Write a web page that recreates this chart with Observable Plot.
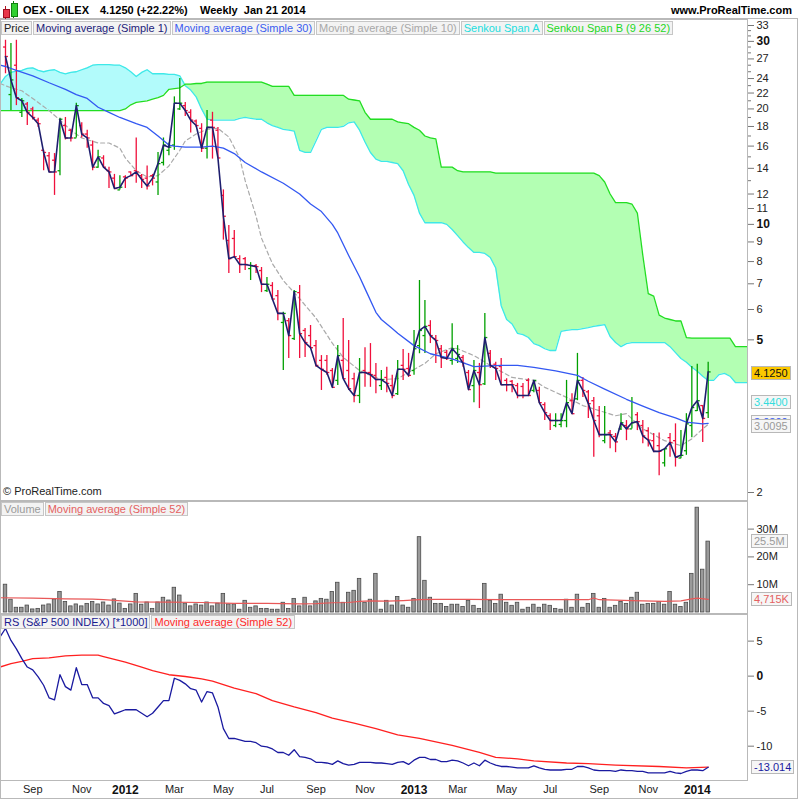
<!DOCTYPE html>
<html><head><meta charset="utf-8">
<script src="https://cdn.jsdelivr.net/npm/d3@7"></script>
<script src="https://cdn.jsdelivr.net/npm/@observablehq/plot@0.6"></script>
<style>
body{margin:0;background:#fff;font-family:"Liberation Sans",Arial,sans-serif;}
#wrap{position:relative;width:800px;height:800px;overflow:hidden;background:#fff;}
.lg{position:absolute;display:flex;font-size:11px;line-height:12px;}
.lg span{border:1px solid #c6c6c6;background:#f3f3f3;padding:0 2px;margin-right:1px;white-space:nowrap;}
.vb{position:absolute;left:751px;font-size:11px;line-height:12px;border:1px solid #b8b8b8;background:#f6f6f6;padding:0 2px;white-space:nowrap;}
</style></head><body><div id="wrap"></div>
<script>
// ---------- DATA (weekly bars from week of 2011-08-01, index 0 .. 129) ----------
const firstWeek = "2011-08-01";
const high = [30.2,29.6,30.2,21.3,20.8,20.2,18.9,15.6,15.4,15.3,
 18.9,19.0,17.7,20.7,18.4,17.6,16.5,15.6,15.1,14.1,
 13.5,13.4,13.4,13.7,16.8,13.5,14.2,13.5,15.4,16.8,
 16.3,21.5,24.0,20.8,19.9,18.7,18.3,19.8,19.6,17.9,
 12.3,9.93,9.64,8.29,8.20,7.95,7.86,7.72,7.27,7.05,
 6.72,5.90,5.68,6.72,6.93,5.35,5.45,4.98,4.55,4.55,
 4.21,4.83,5.68,4.98,4.09,4.47,4.77,4.89,4.34,4.16,
 4.24,4.04,4.42,4.72,4.61,5.29,7.14,6.33,5.61,5.13,
 4.83,4.69,5.51,4.83,4.55,4.16,4.42,4.34,5.86,4.69,
 4.37,4.47,3.96,3.92,3.85,3.85,3.96,3.92,3.76,3.43,
 3.21,3.21,3.21,3.92,3.62,4.61,3.99,3.69,3.54,3.35,
 3.35,2.90,2.85,3.21,3.08,3.54,3.23,3.08,2.95,2.85,
 2.86,2.60,2.85,3.02,2.90,3.21,4.26,4.32,3.37,4.37];
const low = [24.7,19.8,20.4,19.0,18.1,18.7,17.9,13.8,13.7,11.9,
 13.4,16.6,16.4,16.8,16.8,15.8,13.8,14.0,14.0,12.4,
 12.4,12.3,12.4,13.4,12.8,12.4,12.3,12.6,11.9,14.2,
 15.1,15.6,19.8,19.1,17.3,17.9,15.4,14.8,14.8,14.9,
 9.1,7.45,8.20,7.45,7.58,7.14,7.45,6.64,6.64,6.33,
 5.61,4.16,4.47,4.98,4.47,4.50,4.74,4.24,3.69,4.04,
 3.76,3.80,3.96,3.69,3.43,3.41,3.76,3.76,3.62,3.69,
 3.64,3.51,3.58,3.92,3.99,4.04,4.60,4.61,4.89,4.34,
 4.21,4.42,4.29,4.34,4.24,3.71,3.43,3.31,3.80,4.21,
 3.92,3.80,3.66,3.64,3.51,3.51,3.56,3.64,3.41,3.08,
 2.90,2.95,2.95,2.95,3.21,3.47,3.54,3.12,2.47,2.78,
 2.68,2.60,2.54,2.90,2.73,2.93,2.90,2.68,2.63,2.54,
 2.21,2.33,2.47,2.33,2.45,2.50,2.78,3.25,2.70,3.12];
const open = [29.0,21.8,26.0,19.6,20.6,20.0,18.7,15.6,15.1,14.7,
 13.8,18.1,17.6,16.8,18.1,17.2,16.1,14.1,14.9,13.8,
 13.2,12.3,13.3,13.7,13.8,13.4,13.2,13.4,12.9,14.5,
 15.6,16.1,20.0,20.4,19.6,18.6,17.8,15.8,18.7,17.6,
 11.9,9.08,9.19,8.14,8.14,7.67,7.81,7.58,6.72,6.93,
 6.52,5.55,5.61,5.04,6.64,5.29,5.13,4.83,4.42,4.42,
 4.16,3.92,4.42,4.16,3.96,3.58,4.16,4.11,4.04,3.80,
 3.99,3.80,3.62,4.29,4.21,4.16,4.83,5.13,5.45,5.04,
 4.74,4.64,4.42,4.47,4.50,4.11,3.80,4.11,3.84,4.61,
 4.32,4.26,3.92,3.90,3.80,3.78,3.92,3.69,3.69,3.39,
 3.17,2.99,3.01,3.08,3.47,3.51,3.92,3.66,3.47,3.17,
 2.73,2.86,2.80,2.93,2.99,2.93,3.19,2.99,2.90,2.73,
 2.65,2.39,2.78,2.73,2.46,2.57,2.99,3.27,3.37,3.23];
const close = [27.4,23.8,21.4,21.0,19.6,19.0,18.3,15.4,13.7,13.7,
 18.8,16.8,16.8,20.4,17.2,16.8,14.1,15.0,14.1,13.7,
 12.4,12.5,13.2,13.4,13.7,13.1,12.6,13.2,14.4,16.1,
 15.9,20.7,20.7,19.8,18.7,18.1,15.8,17.9,17.9,14.9,
 10.5,8.14,8.24,7.86,7.86,7.81,7.76,6.98,6.98,6.39,
 5.86,5.86,5.13,6.68,5.19,4.92,4.77,4.29,4.19,4.11,
 3.76,4.55,3.96,3.73,3.58,4.11,4.11,4.06,3.94,3.94,
 3.85,3.58,4.19,4.19,4.04,4.74,5.29,5.42,5.13,4.98,
 4.50,4.47,4.74,4.58,4.34,3.71,4.16,3.82,5.07,4.29,
 4.21,3.82,3.82,3.82,3.58,3.58,3.58,3.92,3.43,3.23,
 3.08,3.08,3.08,3.43,3.21,3.92,3.69,3.41,3.08,2.83,
 2.83,2.83,2.71,3.04,2.93,3.04,3.06,2.81,2.74,2.56,
 2.56,2.60,2.70,2.47,2.50,3.02,3.33,3.47,3.12,4.125];
// volume, millions of shares
const volume = [10.0,4.6,1.7,1.7,2.5,1.1,1.3,2.5,2.9,4.7,
 7.4,3.8,2.2,2.9,2.2,3.1,3.8,2.9,3.6,2.5,
 4.7,3.2,1.3,2.9,6.7,2.8,3.6,1.3,3.6,5.3,
 4.3,8.9,6.1,3.2,2.2,2.9,2.5,3.6,2.2,3.2,
 6.7,2.9,2.9,1.0,4.2,1.7,2.2,1.3,1.3,1.0,
 1.0,3.5,1.3,4.9,2.2,5.3,2.2,4.0,4.9,4.6,
 7.4,10.7,3.5,7.1,7.8,12.1,3.5,4.6,13.9,1.0,
 4.2,2.5,5.6,2.5,1.7,4.9,27.1,11.4,5.3,3.1,
 3.1,2.0,2.8,2.8,2.0,4.2,2.4,1.3,10.3,4.2,
 3.1,6.4,3.5,2.4,3.5,1.0,1.7,2.8,1.7,2.8,
 2.4,1.3,1.0,4.6,1.7,6.4,1.7,3.1,6.7,1.7,
 4.9,1.7,2.4,3.8,3.1,5.3,7.1,2.8,3.1,3.1,
 3.8,2.8,7.4,2.8,2.0,3.5,13.9,37.7,15.4,25.5];
// moving averages, read at the listed week indexes
const ma30Idx = [-1,0,2,5,8,11,13,15,17,19,21,24,26,28,30,31,33,36,38,40,42,44,47,51,54,56,58,60,61,63,65,66,68,69,71,72,75,78,82,86,91,94,97,101,105,107,110,114,117,120,123,125,128,129];
const ma30Val = [26.0,25.8,25.2,24.4,23.4,22.5,21.8,21.3,20.2,19.6,19.0,18.3,17.9,17.0,16.1,16.0,15.9,15.9,16.0,15.8,15.3,14.5,13.7,12.8,12.0,11.3,10.8,10.0,9.5,8.3,7.3,6.8,5.9,5.65,5.35,5.2,4.83,4.6,4.46,4.26,4.29,4.29,4.24,4.15,4.04,3.9,3.72,3.5,3.36,3.23,3.13,3.05,3.02,3.03];
const ma10Idx = [-1,1,3,5,8,10,12,14,17,19,21,22,24,26,28,30,32,33,35,37,39,41,43,44,46,47,49,51,54,57,60,62,65,67,69,72,74,77,79,82,83,86,90,93,97,99,103,106,109,112,114,117,119,121,124,126,128,129];
const ma10Val = [23.3,22.7,22.3,21.3,19.8,18.7,17.6,16.8,16.3,16.3,15.8,14.9,13.8,13.3,13.4,14.2,15.6,16.5,17.2,17.7,17.8,16.9,14.9,13.0,10.5,9.2,7.9,7.14,6.4,5.7,4.9,4.5,4.16,4.04,3.94,3.96,4.11,4.34,4.6,4.77,4.74,4.55,4.21,3.99,3.92,3.76,3.54,3.37,3.27,3.17,3.21,2.93,2.83,2.73,2.65,2.76,2.93,3.0095];
// Ichimoku spans (plotted 26 weeks ahead), week index -1 .. 137
const cloudStart = -1;
const spanA = [23.2,24.3,24.9,25.1,25.2,25.5,25.6,25.2,25.0,25.2,25.3,
 24.9,24.7,24.9,25.0,25.3,25.6,26.0,26.1,26.1,26.1,
 26.0,26.0,25.6,25.0,24.3,24.9,25.3,24.7,24.7,24.7,
 24.6,24.6,24.4,23.0,22.4,21.5,20.0,18.8,18.7,18.7,
 18.7,18.7,18.7,18.9,19.0,18.9,18.8,18.8,18.4,18.1,
 17.9,17.7,17.6,17.5,15.6,15.4,15.4,16.5,17.7,17.9,
 17.9,17.9,18.0,18.4,18.5,17.6,16.4,15.4,14.8,14.6,
 14.6,14.5,14.4,13.8,12.7,11.9,10.7,10.1,10.1,10.1,
 10.1,10.0,9.7,9.35,9.0,8.7,8.45,8.45,8.4,8.2,
 7.7,6.14,5.65,5.5,5.2,5.16,5.07,4.89,4.83,4.74,
 4.69,4.69,5.26,5.29,5.32,5.32,5.35,5.38,5.42,5.45,
 5.48,5.1,4.92,4.8,4.89,4.92,4.92,4.92,4.92,4.92,
 4.92,4.92,4.8,4.63,4.47,4.37,4.24,4.14,4.02,3.92,
 3.92,4.06,4.09,4.02,3.87,3.87,3.87,3.87];
const spanB = [19.8,19.8,19.8,19.8,19.8,19.8,19.8,19.8,19.8,19.8,19.8,19.8,
 19.8,19.8,19.8,19.8,19.8,19.8,19.8,19.8,19.8,19.8,19.8,
 20.0,20.5,20.8,20.9,21.0,21.2,21.4,21.7,22.5,22.6,22.7,23.2,23.2,23.3,23.3,
 23.5,23.5,23.5,23.5,23.5,23.5,23.5,23.5,23.5,23.5,23.5,
 23.2,22.9,22.9,22.9,22.9,
 21.7,21.7,21.7,21.7,21.7,21.7,21.7,21.7,21.7,21.7,
 21.2,21.1,21.0,19.6,
 18.8,18.8,18.8,18.8,18.8,
 18.5,18.4,18.3,17.9,17.6,17.0,16.8,16.7,
 14.1,14.1,14.1,13.8,
 13.7,13.7,13.7,13.7,13.7,13.7,
 13.6,13.6,13.6,13.6,13.6,13.6,13.6,13.6,13.6,13.6,13.6,13.6,13.6,13.6,13.6,13.6,13.6,13.6,13.6,
 13.4,12.9,12.0,11.4,11.4,11.4,
 11.3,10.7,8.3,6.6,6.5,5.8,5.7,5.65,5.6,5.6,5.07,
 5.05,5.05,5.05,5.05,5.05,5.05,5.05,5.05,
 4.8,4.8,4.8,4.8];
const volMaIdx = [-1,5,11,16,18,24,30,36,42,48,54,57,60,63,65,67,70,73,76,79,85,91,97,103,107,108,109,115,121,124,126,127,129];
const volMaVal = [5.3,5.15,4.9,4.8,4.6,3.8,3.7,3.6,3.3,3.3,3.1,3.2,3.5,3.6,4.0,4.2,4.1,4.3,4.6,4.7,4.7,4.6,4.6,4.6,4.6,5.2,4.6,4.3,4.0,4.2,4.9,5.2,4.715];
// relative strength vs S&P 500 (*1000), week index -1 .. 129
const rsStart = -1;
const rs = [5.6,
 6.8,5.1,3.9,2.5,1.3,0.9,-0.1,-1.3,-3.1,-3.4,
 0.2,-1.5,-2.0,1.2,-1.2,-1.2,-3.1,-3.1,-3.9,-4.2,
 -5.4,-5.1,-4.8,-4.8,-4.8,-5.3,-5.8,-5.3,-4.4,-3.5,
 -3.5,-0.3,-0.6,-1.1,-1.8,-2.0,-3.7,-2.2,-2.4,-4.4,
 -7.5,-8.9,-8.9,-9.1,-9.3,-9.3,-9.5,-10.0,-10.1,-10.4,
 -10.9,-10.9,-11.3,-10.5,-11.5,-11.6,-11.8,-12.3,-12.3,-12.4,
 -12.6,-12.1,-12.5,-12.7,-12.6,-12.3,-12.3,-12.3,-12.4,-12.4,
 -12.5,-12.6,-12.3,-12.2,-12.6,-12.0,-11.6,-11.6,-11.9,-11.9,
 -12.2,-12.2,-12.0,-12.1,-12.4,-12.8,-12.4,-12.8,-12.0,-12.4,
 -12.7,-12.9,-12.9,-13.0,-13.1,-13.1,-13.1,-12.8,-13.1,-13.3,
 -13.4,-13.4,-13.4,-13.3,-13.3,-12.9,-12.9,-13.1,-13.4,-13.5,
 -13.5,-13.5,-13.6,-13.4,-13.5,-13.5,-13.6,-13.6,-13.8,-13.8,
 -13.8,-13.8,-13.6,-13.8,-13.9,-13.6,-13.4,-13.4,-13.5,-13.014];
const rsMaIdx = [-1,1,3,5,8,11,14,17,18,22,25,27,30,33,36,38,42,46,49,53,57,60,64,68,72,76,82,87,90,94,97,103,107,112,120,125,129];
const rsMaVal = [1.3,1.8,2.1,2.5,2.6,2.9,3.0,3.0,2.8,2.0,1.3,0.8,0.2,-0.05,-0.4,-0.7,-1.7,-2.5,-3.5,-4.4,-5.2,-6.0,-6.7,-7.5,-8.4,-8.9,-9.9,-10.9,-11.6,-11.8,-12.1,-12.4,-12.5,-12.7,-12.9,-13.1,-13.0];
// axis ticks
const tickIdx = [5,14,22,31,40,48,57,66,75,83,92,100,109,118,127];
const tickLabels = ["Sep","Nov","2012","Mar","May","Jul","Sep","Nov","2013","Mar","May","Jul","Sep","Nov","2014"];
const priceTicksMinor = [13,15,17,19,21,23,25,26,28,29,31,32];
const priceTicks = [2,6,7,8,9,11,12,14,16,18,20,22,24,27,33];
const priceTicksBold = [5,10,30];
const volTicks = [10,20,30];
const rsTicks = [-10,-5,5];
const rsTicksBold = [0];
const lastPrice = 4.125, spanALast = 3.44, volLast = 25.5;

// ---------- build tables ----------
const bars = close.map((c, i) => ({i, o: open[i], h: high[i], l: low[i], c, col: c >= open[i] ? "#00a000" : "#f0103c"}));
const cloud = spanA.map((a, k) => ({j: k + cloudStart, a, b: spanB[k]}));
const ma30 = ma30Idx.map((i, k) => ({i, v: ma30Val[k]}));
const ma10 = ma10Idx.map((i, k) => ({i, v: ma10Val[k]}));
const vols = volume.map((v, i) => ({i, v}));
const volMa = volMaIdx.map((i, k) => ({i, v: volMaVal[k]}));
const rsData = rs.map((v, k) => ({i: k + rsStart, v}));
const rsMa = rsMaIdx.map((i, k) => ({i, v: rsMaVal[k]}));
const labelOf = Object.fromEntries(tickIdx.map((t, k) => [t, tickLabels[k]]));
const isYear = s => /^\d{4}$/.test(s);

const FONT = '"Liberation Sans", Arial, sans-serif';
const xDom = [-0.918, 136.22];
const frameCol = "#b9b9b9";
const wrap = document.getElementById("wrap");
const common = {width: 800, marginLeft: 0, marginRight: 53, marginTop: 0,
  style: {fontFamily: FONT, fontSize: "11px", color: "#222", background: "transparent", overflow: "visible"}};

// ---------- price panel ----------
const price = Plot.plot({...common, height: 481, marginBottom: 0,
  x: {type: "linear", domain: xDom, axis: null, label: null},
  y: {type: "log", domain: [2, 33], range: [473, 6], label: null},
  color: {type: "identity"},
  marks: [
    Plot.areaY(cloud, {x: "j", y1: "b", y2: d => Math.max(d.a, d.b), fill: "#b2fbfb", clip: true}),
    Plot.areaY(cloud, {x: "j", y1: "a", y2: d => Math.max(d.a, d.b), fill: "#b3ffb3", clip: true}),
    Plot.line(cloud, {x: "j", y: "a", stroke: "#3ee8e8", strokeWidth: 1.3, clip: true}),
    Plot.line(cloud, {x: "j", y: "b", stroke: "#22dd22", strokeWidth: 1.3, clip: true}),
    Plot.line(ma10, {x: "i", y: "v", stroke: "#aaaaaa", strokeWidth: 1.2, strokeDasharray: "4,3", clip: true}),
    Plot.ruleX(bars, {x: "i", y1: "l", y2: "h", stroke: "col", strokeWidth: 1.3, clip: true}),
    Plot.link(bars, {x1: d => d.i - 0.45, x2: "i", y1: "o", y2: "o", stroke: "col", strokeWidth: 1.3, clip: true}),
    Plot.link(bars, {x1: "i", x2: d => d.i + 0.45, y1: "c", y2: "c", stroke: "col", strokeWidth: 1.3, clip: true}),
    Plot.line(ma30, {x: "i", y: "v", stroke: "#3358f2", strokeWidth: 1.3, clip: true}),
    Plot.line(bars, {x: "i", y: "c", stroke: "#1e1e6e", strokeWidth: 1.6, clip: true}),
    Plot.frame({stroke: frameCol}),
    Plot.axisY(priceTicksMinor, {anchor: "right", tickSize: 3, tickFormat: () => "", stroke: "#777", label: null}),
    Plot.axisY(priceTicks, {anchor: "right", tickSize: 6, tickPadding: 3, tickFormat: d => String(d), stroke: "#777", fill: "#222", label: null}),
    Plot.axisY(priceTicksBold, {anchor: "right", tickSize: 6, tickPadding: 3, tickFormat: d => String(d), stroke: "#777", fill: "#111", fontWeight: "bold", fontSize: 12, label: null})
  ]
});
price.style.position = "absolute"; price.style.left = "0px"; price.style.top = "19px";
wrap.appendChild(price);

// ---------- volume panel ----------
const volPlot = Plot.plot({...common, height: 112, marginBottom: 0,
  x: {type: "linear", domain: xDom, axis: null, label: null},
  y: {domain: [0, 40], range: [111, -0.2], label: null},
  marks: [
    Plot.rect(vols, {x1: d => d.i - 0.32, x2: d => d.i + 0.32, y1: 0, y2: "v", fill: "#9a9a9a", stroke: "#4a4a4a", strokeWidth: 0.8}),
    Plot.line(volMa, {x: "i", y: "v", stroke: "#e85858", strokeWidth: 1.2, clip: true}),
    Plot.frame({stroke: frameCol}),
    Plot.axisY(volTicks, {anchor: "right", tickSize: 6, tickPadding: 3, tickFormat: d => d + "M", stroke: "#777", fill: "#222", label: null})
  ]
});
volPlot.style.position = "absolute"; volPlot.style.left = "0px"; volPlot.style.top = "501px";
wrap.appendChild(volPlot);

// ---------- RS panel ----------
const rsPlot = Plot.plot({...common, height: 186, marginBottom: 20,
  x: {type: "linear", domain: xDom, label: null},
  y: {domain: [-14.9, 8.8], label: null},
  marks: [
    Plot.line(rsMa, {x: "i", y: "v", stroke: "#ff2020", strokeWidth: 1.3, clip: true}),
    Plot.line(rsData, {x: "i", y: "v", stroke: "#1a1aa0", strokeWidth: 1.3, clip: true}),
    Plot.frame({stroke: frameCol}),
    Plot.axisY(rsTicks, {anchor: "right", tickSize: 6, tickPadding: 3, tickFormat: d => String(d), stroke: "#777", fill: "#222", label: null}),
    Plot.axisY(rsTicksBold, {anchor: "right", tickSize: 6, tickPadding: 3, tickFormat: d => String(d), stroke: "#777", fill: "#111", fontWeight: "bold", fontSize: 12, label: null}),
    Plot.axisX(tickIdx.filter(t => !isYear(labelOf[t])), {anchor: "bottom", tickSize: 0, tickPadding: 5, tickFormat: t => labelOf[t], fill: "#222", label: null}),
    Plot.axisX(tickIdx.filter(t => isYear(labelOf[t])), {anchor: "bottom", tickSize: 0, tickPadding: 5, tickFormat: t => labelOf[t], fill: "#111", fontWeight: "bold", fontSize: 12, label: null})
  ]
});
rsPlot.style.position = "absolute"; rsPlot.style.left = "0px"; rsPlot.style.top = "614px";
wrap.appendChild(rsPlot);

// ---------- HTML decorations ----------
function add(html, css) { const d = document.createElement("div"); d.innerHTML = html; Object.assign(d.style, css); wrap.appendChild(d); return d; }
add("", {position: "absolute", left: "0px", top: "18px", width: "798px", height: "781px", border: "1px solid " + frameCol, boxSizing: "border-box", pointerEvents: "none"});
add('<div style="position:absolute;left:5px;top:6px;width:1px;height:13px;background:#b01020"></div><div style="position:absolute;left:3px;top:9px;width:5px;height:7px;background:#e8384a;border:1px solid #a01020"></div><div style="position:absolute;left:13px;top:1px;width:1px;height:17px;background:#108010"></div><div style="position:absolute;left:11px;top:3px;width:5px;height:12px;background:#30d030;border:1px solid #108010"></div>', {position: "absolute", left: "0px", top: "0px"});
add("OEX - OILEX", {position: "absolute", left: "23px", top: "4px", fontSize: "11px", fontWeight: "bold"});
add("4.1250 (+22.22%)", {position: "absolute", left: "100px", top: "4px", fontSize: "11px", fontWeight: "bold"});
add("Weekly&nbsp;&nbsp;Jan 21 2014", {position: "absolute", left: "200px", top: "4px", fontSize: "11px", fontWeight: "bold"});
add("www.ProRealTime.com", {position: "absolute", right: "8px", top: "4px", fontSize: "11px", fontWeight: "bold"});
function legend(items, top) {
  const d = document.createElement("div"); d.className = "lg"; d.style.left = "1px"; d.style.top = top + "px";
  for (const [txt, col] of items) { const s = document.createElement("span"); s.textContent = txt; s.style.color = col; d.appendChild(s); }
  wrap.appendChild(d);
}
legend([["Price", "#222"], ["Moving average (Simple 1)", "#22227a"], ["Moving average (Simple 30)", "#3a5cf0"], ["Moving average (Simple 10)", "#a8a8a8"], ["Senkou Span A", "#22dede"], ["Senkou Span B (9 26 52)", "#1ed81e"]], 21);
legend([["Volume", "#9a9a9a"], ["Moving average (Simple 52)", "#e46060"]], 502);
legend([["RS (S&P 500 INDEX) [*1000]", "#1a1a90"], ["Moving average (Simple 52)", "#ff2a2a"]], 615);
add("© ProRealTime.com", {position: "absolute", left: "3px", top: "485px", fontSize: "11px", color: "#222"});
// value boxes placed with the library's scales
const py = price.scale("y"), vy = volPlot.scale("y"), ry = rsPlot.scale("y");
function vbox(text, yPage, col, bg) {
  const d = document.createElement("div"); d.className = "vb"; d.textContent = text;
  d.style.color = col; if (bg) d.style.background = bg;
  d.style.top = (yPage - 7) + "px"; wrap.appendChild(d);
}
vbox(ma30Val[ma30Val.length - 1].toFixed(4), 19 + py.apply(ma30Val[ma30Val.length - 1]) - 1, "#3358f2");
vbox(ma10Val[ma10Val.length - 1].toFixed(4), 19 + py.apply(ma10Val[ma10Val.length - 1]) + 2, "#9a9a9a");
vbox(spanALast.toFixed(4), 19 + py.apply(spanALast), "#33dddd");
vbox(lastPrice.toFixed(4), 19 + py.apply(lastPrice) + 2, "#111", "#fcc800");
vbox(volLast + "M", 501 + vy.apply(volLast), "#9a9a9a");
vbox(d3.format(",")(Math.round(volMaVal[volMaVal.length - 1] * 1000)) + "K", 501 + vy.apply(volMaVal[volMaVal.length - 1]), "#e46060");
vbox(rs[rs.length - 1].toFixed(3), 614 + ry.apply(rs[rs.length - 1]), "#1a1aa0");
</script></body></html>
